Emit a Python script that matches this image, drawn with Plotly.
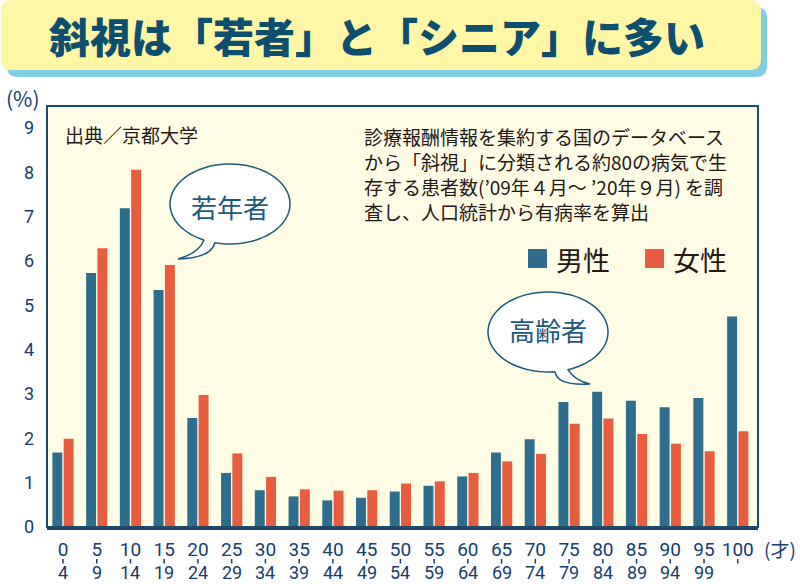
import math
import plotly.graph_objects as go

# ---------------- data ----------------
age_start = ["0", "5", "10", "15", "20", "25", "30", "35", "40", "45", "50",
             "55", "60", "65", "70", "75", "80", "85", "90", "95", "100"]
age_end = ["4", "9", "14", "19", "24", "29", "34", "39", "44", "49", "54",
           "59", "64", "69", "74", "79", "84", "89", "94", "99", ""]
male = [1.68, 5.73, 7.19, 5.35, 2.46, 1.22, 0.83, 0.69, 0.60, 0.66, 0.80,
        0.93, 1.14, 1.68, 1.98, 2.82, 3.05, 2.85, 2.70, 2.91, 4.75]
female = [1.99, 6.29, 8.06, 5.91, 2.98, 1.66, 1.13, 0.85, 0.82, 0.83, 0.98,
          1.03, 1.22, 1.48, 1.65, 2.33, 2.45, 2.10, 1.88, 1.71, 2.16]
series_names = ["男性", "女性"]
series_colors = ["#2e6d8d", "#e95d3f"]
y_ticks = [0, 1, 2, 3, 4, 5, 6, 7, 8, 9]

title_text = "斜視は「若者」と「シニア」に多い"
source_text = "出典／京都大学"
note_lines = ["診療報酬情報を集約する国のデータベース",
              "から「斜視」に分類される約80の病気で生",
              "存する患者数(’09年４月～ ’20年９月) を調",
              "査し、人口統計から有病率を算出"]

# ---------------- layout geometry (pixels) ----------------
W, H = 800, 584
L, R, T, B = 47, 758, 106, 527
PW, PH = R - L, B - T

def xp(px):
    return (px - L) / PW

def yp(py):
    return (B - py) / PH

NAVY = "#163d6b"
TEAL = "#1d5a7a"
CJK = "Noto Sans CJK JP"
NUM = "Roboto, Liberation Sans, sans-serif"

x_idx = list(range(len(age_start)))

fig = go.Figure()
for name, vals, col in zip(series_names, [male, female], series_colors):
    fig.add_trace(go.Bar(x=x_idx, y=vals, name=name, marker_color=col,
                         marker_line_width=0, showlegend=False))

shapes = []
annotations = []

def rrect(x0, y0, x1, y1, r):
    def P(a, b):
        return f"{xp(a):.5f},{yp(b):.5f}"
    return (f"M {P(x0 + r, y0)} L {P(x1 - r, y0)} Q {P(x1, y0)} {P(x1, y0 + r)} "
            f"L {P(x1, y1 - r)} Q {P(x1, y1)} {P(x1 - r, y1)} "
            f"L {P(x0 + r, y1)} Q {P(x0, y1)} {P(x0, y1 - r)} "
            f"L {P(x0, y0 + r)} Q {P(x0, y0)} {P(x0 + r, y0)} Z")

# title box with shadow
shapes.append(dict(type="path", xref="paper", yref="paper", path=rrect(7, 7, 767, 77, 11),
                   fillcolor="#7fcfe2", line_width=0, layer="above"))
shapes.append(dict(type="path", xref="paper", yref="paper", path=rrect(1, 0, 761, 70, 11),
                   fillcolor="#fff7a6", line_width=0, layer="above"))
annotations.append(dict(xref="paper", yref="paper", x=xp(377), y=yp(35), text=title_text,
                        showarrow=False, xanchor="center", yanchor="middle",
                        font=dict(family=CJK, size=41, color="#0d4f6e", weight=900)))

# frame
shapes.append(dict(type="rect", xref="paper", yref="paper", x0=0, x1=1, y0=0, y1=1,
                   line=dict(color="#1d4a6a", width=2), layer="above"))

# speech bubbles
def bubble(cx, cy, rx, ry, t_start, t_end, tail):
    pts = []
    n = 90
    for k in range(n + 1):
        t = math.radians(t_start + (t_end - t_start) * k / n)
        pts.append((cx + rx * math.cos(t), cy + ry * math.sin(t)))
    path = f"M {xp(pts[0][0]):.5f},{yp(pts[0][1]):.5f} "
    for (a, b) in pts[1:]:
        path += f"L {xp(a):.5f},{yp(b):.5f} "
    for (c, e) in tail:
        path += f"Q {xp(c[0]):.5f},{yp(c[1]):.5f} {xp(e[0]):.5f},{yp(e[1]):.5f} "
    path += "Z"
    return path

b1 = bubble(230, 204, 60, 40, 115.7, 360 + 104.5,
            [((211, 258), (178, 259)), ((199, 253), (204, 240))])
shapes.append(dict(type="path", xref="paper", yref="paper", path=b1, fillcolor="white",
                   line=dict(color=TEAL, width=1.5), layer="above"))
annotations.append(dict(xref="paper", yref="paper", x=xp(230), y=yp(206), text="若年者",
                        showarrow=False, xanchor="center", yanchor="middle",
                        font=dict(family=CJK, size=26, color=TEAL)))
b2 = bubble(548, 332, 60, 40, 83.3, 360 + 70.5,
            [((575, 381), (590, 384)), ((557, 386), (555, 371.7))])
shapes.append(dict(type="path", xref="paper", yref="paper", path=b2, fillcolor="white",
                   line=dict(color=TEAL, width=1.5), layer="above"))
annotations.append(dict(xref="paper", yref="paper", x=xp(548), y=yp(329), text="高齢者",
                        showarrow=False, xanchor="center", yanchor="middle",
                        font=dict(family=CJK, size=26, color=TEAL)))

# source and note
annotations.append(dict(xref="paper", yref="paper", x=xp(63), y=yp(134), text=source_text,
                        showarrow=False, xanchor="left", yanchor="middle",
                        font=dict(family=CJK, size=19, color="#231815")))
note_y = [136.0, 161.0, 186.0, 211.0]
for ny, line in zip(note_y, note_lines):
    annotations.append(dict(xref="paper", yref="paper", x=xp(362), y=yp(ny), text=line,
                            showarrow=False, xanchor="left", yanchor="middle", align="left",
                            font=dict(family=CJK, size=19, color="#231815")))

# legend (manual)
leg_x = [528, 645]
for lx, name, col in zip(leg_x, series_names, series_colors):
    shapes.append(dict(type="rect", xref="paper", yref="paper", x0=xp(lx), x1=xp(lx + 19),
                       y0=yp(268), y1=yp(249), fillcolor=col, line_width=0, layer="above"))
    annotations.append(dict(xref="paper", yref="paper", x=xp(lx + 26), y=yp(259), text=name,
                            showarrow=False, xanchor="left", yanchor="middle",
                            font=dict(family=CJK, size=27, color="#231815")))

# x axis lower labels and small tick marks
for i, e in enumerate(age_end):
    shapes.append(dict(type="line", xref="x", yref="paper", x0=i, x1=i, y0=yp(559), y1=yp(563.5),
                       line=dict(color=NAVY, width=1.5)))
    if e:
        annotations.append(dict(xref="x", yref="paper", x=i, y=yp(572.5), text=e, showarrow=False,
                                xanchor="center", yanchor="middle",
                                font=dict(family=NUM, size=18, color=NAVY)))

# unit labels
annotations.append(dict(xref="paper", yref="paper", x=xp(23), y=yp(98), text="(%)", showarrow=False,
                        xanchor="center", yanchor="middle", font=dict(family=CJK, size=21, color=NAVY)))
annotations.append(dict(xref="paper", yref="paper", x=xp(780), y=yp(548), text="(才)", showarrow=False,
                        xanchor="center", yanchor="middle", font=dict(family=CJK, size=19, color=NAVY)))

fig.update_layout(
    width=W, height=H,
    margin=dict(l=L, r=W - R, t=T, b=H - B, pad=0),
    paper_bgcolor="white", plot_bgcolor="#fffce6",
    barmode="group", bargap=0.33, bargroupgap=0.12,
    shapes=shapes, annotations=annotations,
    xaxis=dict(range=[-0.474, 20.6], tickmode="array", tickvals=x_idx, ticktext=age_start,
               showgrid=False, zeroline=False, showline=True, linecolor="#1d4a6a", linewidth=3,
               ticks="", ticklabelstandoff=3, fixedrange=True,
               tickfont=dict(family=NUM, size=19, color=NAVY)),
    yaxis=dict(range=[0, 9.5], tickmode="array", tickvals=y_ticks,
               ticktext=[str(v) for v in y_ticks], showgrid=False, zeroline=False,
               showline=False, ticks="", ticklabelstandoff=12, fixedrange=True,
               tickfont=dict(family=NUM, size=18, color=NAVY)),
)

fig.write_html("out.html", config={"displayModeBar": False},
               post_script="document.body.style.margin='0';document.body.style.overflow='hidden';")
